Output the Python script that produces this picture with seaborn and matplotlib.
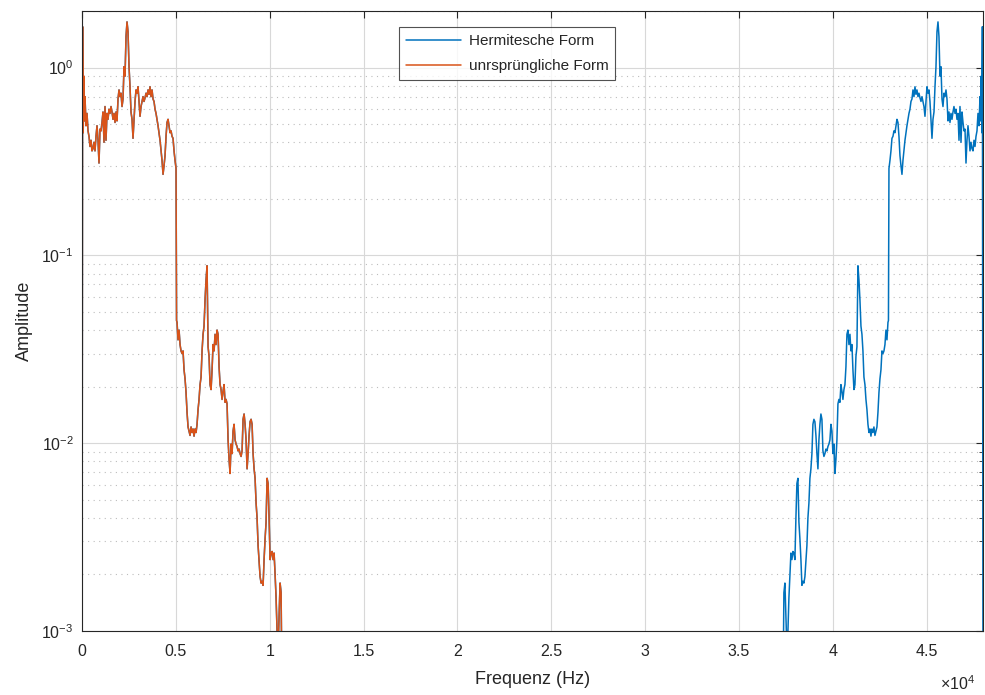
import numpy as np
import pandas as pd
import matplotlib
matplotlib.use("Agg")
import matplotlib.pyplot as plt
import seaborn as sns
from matplotlib.ticker import LogLocator, FixedLocator, FixedFormatter, NullFormatter

# ---- data: one-sided amplitude spectrum ----
freq_hz = [0, 32, 64, 96, 128, 160, 213, 267, 320, 373, 426, 480, 533, 586, 640, 693, 746, 800,
           853, 906, 959, 1013, 1066, 1119, 1172, 1226, 1279, 1332, 1386, 1439, 1492, 1546, 1599,
           1652, 1705, 1759, 1812, 1865, 1919, 1972, 2025, 2079, 2132, 2185, 2239, 2292, 2345,
           2398, 2452, 2505, 2558, 2611, 2665, 2718, 2771, 2825, 2878, 2931, 2985, 3038, 3091,
           3145, 3198, 3251, 3304, 3358, 3411, 3464, 3518, 3571, 3624, 3678, 3731, 3784, 3837,
           3891, 3944, 3997, 4051, 4104, 4157, 4211, 4264, 4317, 4370, 4424, 4477, 4530, 4584,
           4637, 4690, 4744, 4797, 4850, 4903, 4957, 5010, 5037, 5063, 5116, 5170, 5223, 5276,
           5330, 5383, 5436, 5490, 5543, 5596, 5650, 5703, 5756, 5810, 5863, 5916, 5969, 6023,
           6076, 6129, 6183, 6236, 6289, 6343, 6396, 6449, 6502, 6556, 6609, 6662, 6716, 6769,
           6822, 6876, 6929, 6982, 7036, 7089, 7142, 7195, 7249, 7302, 7355, 7409, 7462, 7515,
           7568, 7622, 7675, 7728, 7782, 7835, 7888, 7942, 7995, 8048, 8101, 8155, 8208, 8261,
           8315, 8368, 8421, 8475, 8528, 8581, 8635, 8688, 8741, 8794, 8848, 8901, 8954, 9008,
           9061, 9114, 9168, 9221, 9274, 9327, 9381, 9434, 9487, 9541, 9594, 9647, 9700, 9754,
           9807, 9860, 9914, 9967, 10020, 10074, 10127, 10180, 10233, 10287, 10340, 10393, 10447,
           10500, 10553, 10607, 10660, 11000, 24000]
amplitude = [0.0004, 1.65, 0.45, 0.90, 0.52, 0.70, 0.49, 0.57, 0.46, 0.43, 0.38, 0.41, 0.36, 0.37,
             0.40, 0.36, 0.43, 0.49, 0.41, 0.31, 0.47, 0.46, 0.51, 0.58, 0.40, 0.62, 0.41, 0.57,
             0.53, 0.60, 0.57, 0.62, 0.58, 0.53, 0.57, 0.51, 0.58, 0.52, 0.68, 0.76, 0.70, 0.73,
             0.62, 0.68, 1.01, 0.90, 1.46, 1.75, 1.55, 1.01, 0.79, 0.58, 0.53, 0.42, 0.52, 0.66,
             0.76, 0.73, 0.79, 0.66, 0.55, 0.62, 0.66, 0.70, 0.66, 0.69, 0.73, 0.70, 0.76, 0.72,
             0.79, 0.70, 0.76, 0.68, 0.66, 0.60, 0.57, 0.53, 0.49, 0.45, 0.41, 0.36, 0.32, 0.27,
             0.30, 0.34, 0.43, 0.51, 0.53, 0.49, 0.45, 0.46, 0.43, 0.42, 0.36, 0.32, 0.29, 0.045,
             0.044, 0.0355, 0.040, 0.0335, 0.031, 0.030, 0.031, 0.0246, 0.022, 0.0186, 0.0146,
             0.0122, 0.0116, 0.011, 0.0122, 0.0114, 0.0119, 0.0109, 0.0119, 0.0114, 0.0126,
             0.0151, 0.0171, 0.0205, 0.0225, 0.031, 0.038, 0.042, 0.058, 0.074, 0.088, 0.0326,
             0.029, 0.0205, 0.0193, 0.0246, 0.0335, 0.031, 0.038, 0.0335, 0.040, 0.038, 0.0255,
             0.0205, 0.0193, 0.0171, 0.0189, 0.0205, 0.0165, 0.0171, 0.0162, 0.0104, 0.0082,
             0.0069, 0.0099, 0.0088, 0.0116, 0.0126, 0.0104, 0.0099, 0.0096, 0.0091, 0.0093,
             0.0088, 0.0085, 0.0091, 0.0134, 0.0143, 0.0126, 0.0104, 0.0073, 0.0088, 0.011,
             0.013, 0.0134, 0.0126, 0.0088, 0.0073, 0.0065, 0.0048, 0.0040, 0.00285, 0.00235,
             0.00195, 0.0018, 0.00184, 0.00175, 0.0024, 0.0031, 0.0038, 0.0065, 0.0061, 0.0040,
             0.0024, 0.0026, 0.00265, 0.0024, 0.0026, 0.002, 0.0015, 0.00099, 0.0008, 0.0012,
             0.0018, 0.0016, 0.0004, 0.00001, 0.00001]
fs = 48000
x_ticks = [0, 5000, 10000, 15000, 20000, 25000, 30000, 35000, 40000, 45000]
x_tick_labels = ["0", "0.5", "1", "1.5", "2", "2.5", "3", "3.5", "4", "4.5"]
series_names = ["Hermitesche Form", "unrsprüngliche Form"]

# Hermitian (two-sided) spectrum: mirror of the one-sided one around fs/2
f = np.array(freq_hz, dtype=float)
a = np.array(amplitude, dtype=float)
f_full = np.concatenate([f, fs - f[::-1]])
a_full = np.concatenate([a, a[::-1]])
df_herm = pd.DataFrame({"Frequenz": f_full, "Amplitude": a_full})
df_orig = pd.DataFrame({"Frequenz": f[:-2], "Amplitude": a[:-2]})

sns.set_theme(style="white")
plt.rcParams["font.family"] = ["Liberation Sans", "DejaVu Sans"]
plt.rcParams["mathtext.fontset"] = "custom"
plt.rcParams["mathtext.rm"] = "Liberation Sans"
plt.rcParams["mathtext.it"] = "Liberation Sans"

fig = plt.figure(figsize=(9.85, 6.95), dpi=100)
ax = fig.add_axes([82 / 985, 1 - 631 / 695, (983 - 82) / 985, (631 - 11) / 695])

blue = "#0072BD"
orange = "#D95319"
sns.lineplot(data=df_herm, x="Frequenz", y="Amplitude", ax=ax, color=blue, lw=1.1,
             estimator=None, sort=False, label=series_names[0])
sns.lineplot(data=df_orig, x="Frequenz", y="Amplitude", ax=ax, color=orange, lw=1.1,
             estimator=None, sort=False, label=series_names[1])

ax.set_yscale("log")
ax.set_xlim(0, fs)
ax.set_ylim(1e-3, 2)

ax.xaxis.set_major_locator(FixedLocator(x_ticks))
ax.xaxis.set_major_formatter(FixedFormatter(x_tick_labels))
ax.yaxis.set_major_locator(LogLocator(base=10, numticks=10))
ax.yaxis.set_minor_locator(LogLocator(base=10, subs=np.arange(2, 10), numticks=20))
ax.yaxis.set_minor_formatter(NullFormatter())

txt_col = "#262626"
ax.grid(True, which="major", axis="both", color="#d8d8d8", lw=0.8)
ax.grid(True, which="minor", axis="y", color="#bdbdbd", lw=0.8, linestyle=(0, (1, 4)))
ax.set_axisbelow(True)
ax.tick_params(which="both", direction="in", top=True, right=True, colors=txt_col,
               labelsize=11.5)
ax.tick_params(axis="x", pad=9)
ax.tick_params(axis="y", pad=6)
ax.tick_params(which="major", length=5, width=0.8)
ax.tick_params(which="minor", length=3, width=0.6)
for s in ax.spines.values():
    s.set_color(txt_col)
    s.set_linewidth(0.8)
    s.set_visible(True)

ax.set_xlabel("Frequenz (Hz)", fontsize=13, color=txt_col, labelpad=9)
ax.set_ylabel("Amplitude", fontsize=13, color=txt_col, labelpad=6)
fig.text(958 / 985, 1 - 684 / 695, r"$\times10^{4}$", fontsize=11.5, color=txt_col,
         ha="center", va="center")

leg = ax.legend(loc="upper center", bbox_to_anchor=(0.472, 0.974), frameon=True, fancybox=False,
                edgecolor=txt_col, fontsize=11, handlelength=3.6, borderpad=0.45,
                labelspacing=0.75, handletextpad=0.5, borderaxespad=0)
leg.get_frame().set_linewidth(0.8)

fig.savefig("out.png", dpi=100)
